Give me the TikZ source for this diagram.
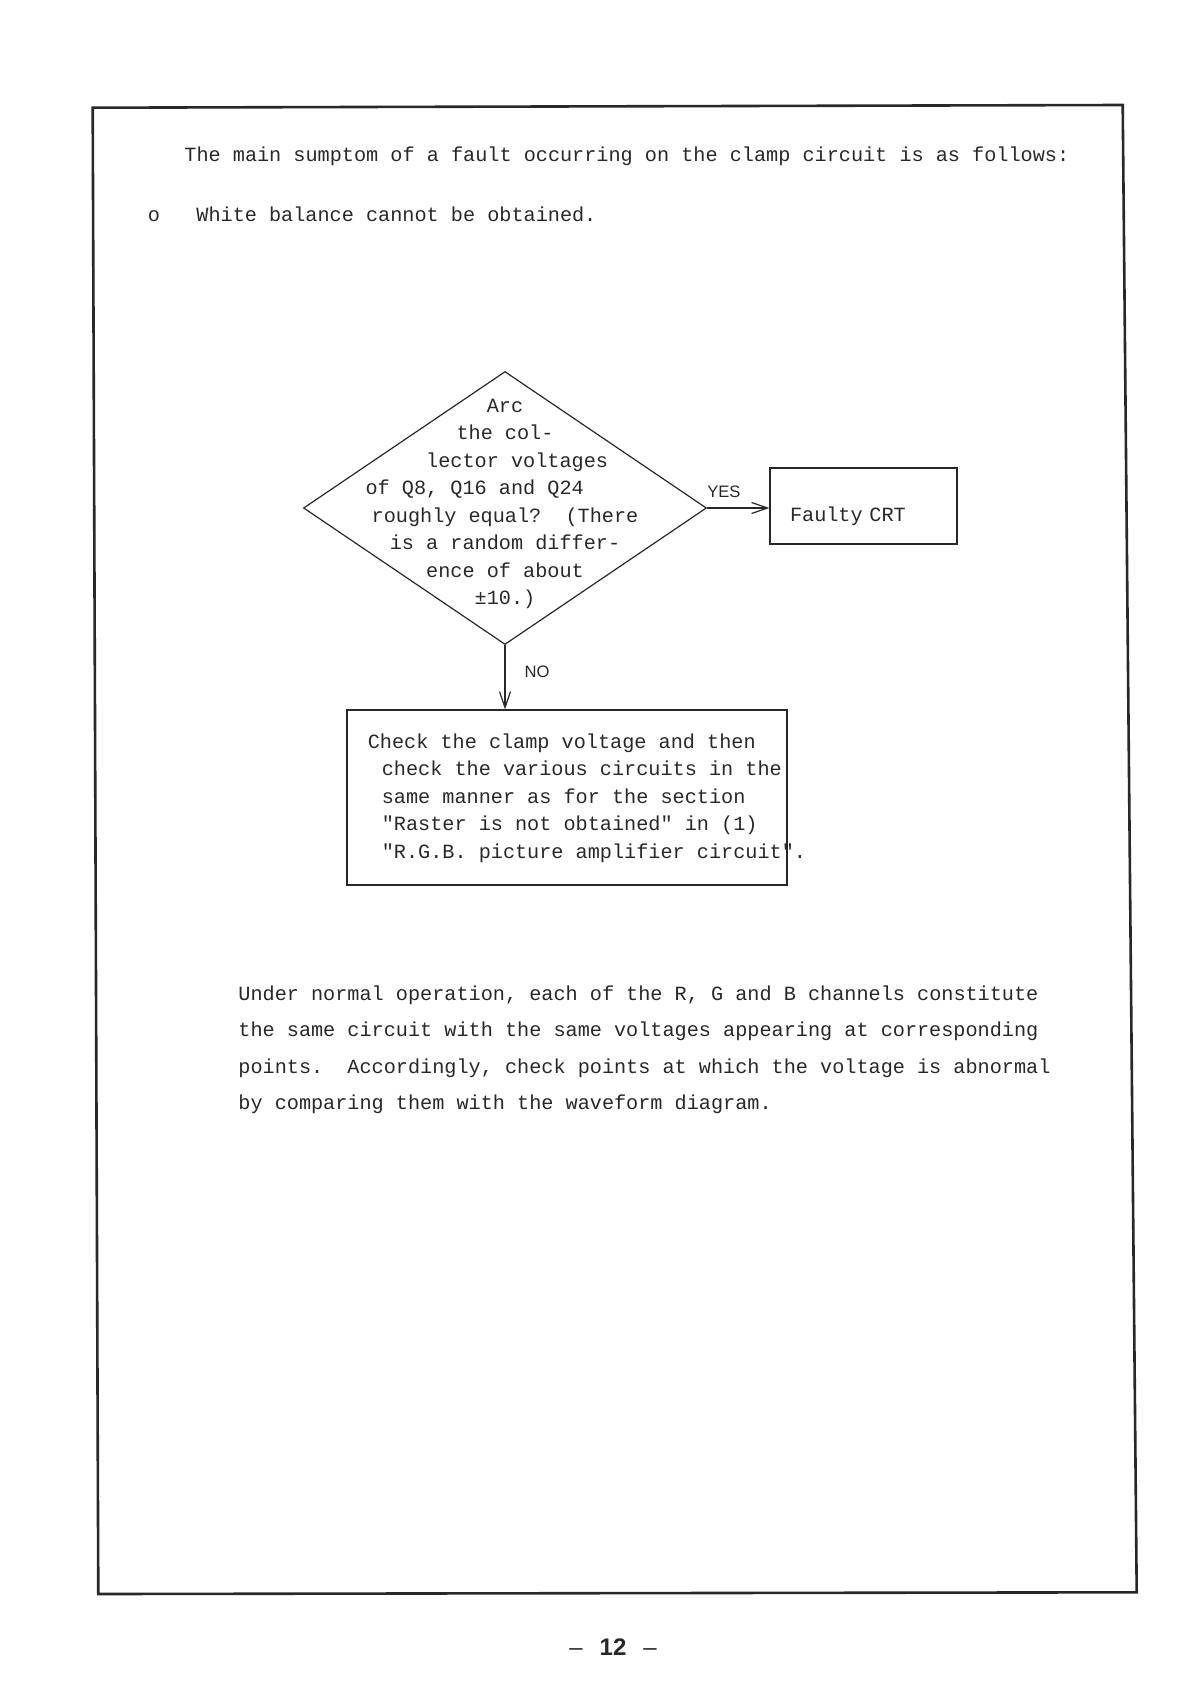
\documentclass[tikz,border=0pt]{standalone}
\usepackage{fontspec}
\setmainfont{Liberation Serif}
\setmonofont{Liberation Mono}
\setsansfont{Liberation Sans}
\usetikzlibrary{shapes.geometric, arrows.meta, positioning, calc}
\definecolor{inkgray}{RGB}{40, 40, 40}

\begin{document}
\begin{tikzpicture}[
  x=0.5pt, y=-0.5pt,
  body/.style={text=inkgray, font=\fontsize{10.1}{18.3}\selectfont\ttfamily, inner sep=0pt},
  query/.style={draw=inkgray, line width=0.6pt, diamond, minimum width=201.5pt, minimum height=136.5pt, inner sep=0pt},
  querytext/.style={text=inkgray, align=center, font=\fontsize{10.1}{13.75}\selectfont\ttfamily, inner sep=0pt},
  crtbox/.style={draw=inkgray, line width=0.6pt, text=inkgray, minimum height=38pt, text width=73.5pt, inner xsep=10pt, inner ysep=0pt, align=left, text height=16pt, text depth=1pt, font=\fontsize{10.1}{12}\selectfont\ttfamily},
  checkbox/.style={draw=inkgray, line width=0.6pt, minimum width=220pt, minimum height=87.5pt, inner sep=0pt},
  checktext/.style={text=inkgray, align=left, font=\fontsize{10.1}{13.75}\selectfont\ttfamily, inner sep=0pt},
  answer/.style={text=inkgray, font=\fontsize{8.3}{10}\selectfont\sffamily, inner sep=0pt},
  flow/.style={draw=inkgray, line width=0.6pt, -{Straight Barb[length=8pt, width=5.5pt]}}
]
  \useasboundingbox (0,0) rectangle (1191,1685);

  % page frame
  \draw[inkgray, line width=1.3pt] (92.7,107.7) -- (1122.7,105) -- (1136.7,1592.3) -- (98.3,1594) -- cycle;

  % opening lines
  \node[body, anchor=base west] (symptom) at (184,162) {The main sumptom of a fault occurring on the clamp circuit is as follows:};
  \node[body, anchor=base] (bullet) at (154,221) {o};
  \node[body, anchor=base west] (whitebal) at (196,221) {White balance cannot be obtained.};

  % flow chart
  \node[query] (query) at (505,508) {};
  \node[querytext, yshift=2pt] (querytxt) at (query.center) {Arc\\the col-\\\hphantom{xx}lector voltages\\of Q8, Q16 and Q24\hphantom{xxxxx}\\roughly equal?\ \ (There\\is a random differ-\\ence of about\\±10.)};
  \node[crtbox] (crt) at (863.5,506) {Faulty CRT};
  \node[checkbox] (check) at (567,797.5) {};
  \node[checktext, anchor=north west] (checktxt) at ([xshift=17.5pt, yshift=-11.9pt]check.north west) {\hspace*{-7pt}Check the clamp voltage and then\\check the various circuits in the\\same manner as for the section\\"Raster is not obtained" in (1)\\"R.G.B. picture amplifier circuit".};

  \draw[flow] (query.east) -- node[answer, above=5pt, pos=0.27] (yes) {YES} (query.east -| crt.west);
  \draw[flow] (query.south) -- node[answer, right=9.5pt, pos=0.41] (no) {NO} (query.south |- check.north);

  % closing paragraph
  \node[body, align=left, anchor=north west] (normal) at (238,985) {Under normal operation, each of the R, G and B channels constitute\\the same circuit with the same voltages appearing at corresponding\\points.\ \ Accordingly, check points at which the voltage is abnormal\\by comparing them with the waveform diagram.};

  % page number
  \node[text=inkgray, font=\fontsize{12}{14}\selectfont\sffamily, anchor=base, inner sep=0pt] (pagenum) at (613,1655) {–\hspace{8.5pt}\textbf{12}\hspace{8.5pt}–};
\end{tikzpicture}
\end{document}
